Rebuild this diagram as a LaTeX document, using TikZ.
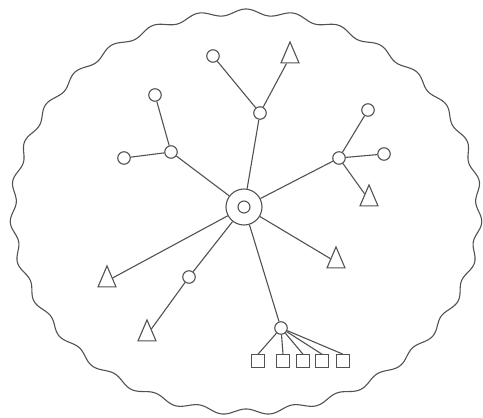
\documentclass[tikz,border=0pt]{standalone}
\usetikzlibrary{shapes.geometric}
\begin{document}
\begin{tikzpicture}[x=1pt,y=-1pt,
  line width=1.1pt,
  dot/.style={circle,draw=black!68,line width=1.1pt,fill=white,minimum size=12.5pt,inner sep=0pt},
  tri/.style={isosceles triangle,shape border rotate=90,isosceles triangle apex angle=46,
              isosceles triangle stretches,draw=black!68,line width=1.1pt,fill=white,
              minimum width=18pt,minimum height=21pt,inner sep=0pt},
  sq/.style={rectangle,draw=black!68,line width=1.1pt,fill=white,minimum size=12.5pt,inner sep=0pt},
  link/.style={draw=black!68,line width=1.1pt},
  wavy/.style={draw=black!68,line width=1.1pt}]
\useasboundingbox (0,0) rectangle (483,418);
% wavy boundary
\draw[wavy] plot[domain=0:360,samples=1200,smooth,variable=\t]
  ({246+(233+3*sin(31*\t))*cos(\t)},{212+(200+3*sin(31*\t))*sin(\t)}) -- cycle;
% nodes
\node[circle,draw=black!68,line width=1.1pt,minimum size=36pt,inner sep=0pt] (c) at (244,207) {};
\node[circle,draw=black!68,line width=1.1pt,minimum size=12pt,inner sep=0pt] (ci) at (244,207) {};
\node[dot] (ht) at (260,113) {};
\node[dot] (t1) at (213,56) {};
\node[tri] (t2) at (290,57) {};
\node[dot] (hl) at (171,152) {};
\node[dot] (l1) at (155,95) {};
\node[dot] (l2) at (124,158) {};
\node[dot] (hr) at (339,158) {};
\node[dot] (r1) at (368,110) {};
\node[dot] (r2) at (384,154) {};
\node[tri] (r3) at (369,200) {};
\node[tri] (tr) at (336,262) {};
\node[tri] (tl) at (107,281) {};
\node[dot] (hb) at (189,277) {};
\node[tri] (bl) at (147,335) {};
\node[dot] (hs) at (281,328) {};
\node[sq] (s1) at (258,361) {};
\node[sq] (s2) at (283,361) {};
\node[sq] (s3) at (303,361) {};
\node[sq] (s4) at (322,361) {};
\node[sq] (s5) at (343,361) {};
% connectors
\draw[link] (c) -- (ht);
\draw[link] (ht) -- (t1);
\draw[link] (ht) -- (t2);
\draw[link] (c) -- (hl);
\draw[link] (hl) -- (l1);
\draw[link] (hl) -- (l2);
\draw[link] (c) -- (hr);
\draw[link] (hr) -- (r1);
\draw[link] (hr) -- (r2);
\draw[link] (hr) -- (r3);
\draw[link] (c) -- (tr);
\draw[link] (c) -- (tl);
\draw[link] (c) -- (hb);
\draw[link] (hb) -- (bl);
\draw[link] (c) -- (hs);
\draw[link] (hs) -- (s1.north);
\draw[link] (hs) -- (s2.north);
\draw[link] (hs) -- (s3.north);
\draw[link] (hs) -- (s4.north);
\draw[link] (hs) -- (s5.north);
\end{tikzpicture}
\end{document}
